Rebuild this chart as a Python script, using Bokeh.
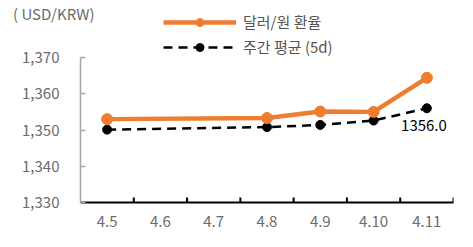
from bokeh.plotting import figure
from bokeh.models import (FactorRange, Range1d, LinearAxis, CategoricalAxis, FixedTicker,
                          NumeralTickFormatter, Legend, LegendItem, ColumnDataSource)
from bokeh.transform import dodge
from bokeh.embed import file_html
from bokeh.resources import INLINE
from bokeh.core.properties import value

categories = ["4.5", "4.6", "4.7", "4.8", "4.9", "4.10", "4.11"]
days = ["4.5", "4.8", "4.9", "4.10", "4.11"]
rate = [1353.0, 1353.3, 1355.1, 1355.0, 1364.4]
avg5 = [1350.1, 1350.8, 1351.4, 1352.6, 1356.0]
y_ticks = [1330, 1340, 1350, 1360, 1370]
title_text = "( USD/KRW)"
name_rate = "달러/원 환율"
name_avg = "주간 평균 (5d)"

FONT = "Noto Sans CJK KR"
ORANGE = "#ED7D31"
GRAY = "#6b6b6b"
Y0, Y1 = y_ticks[0], y_ticks[-1]
TOP = 13  # frame top (px); 145 px correspond to the 40-unit axis span
PX = (Y1 - Y0) / 145.0
Y_TOP = Y0 + (202 - TOP) * PX

p = figure(width=473, height=247, output_backend="svg", toolbar_location=None,
           x_range=FactorRange(factors=categories, factor_padding=0, range_padding=0),
           y_range=Range1d(Y0, Y_TOP), x_axis_location=None, y_axis_location=None,
           min_border_left=80, min_border_right=20, min_border_top=TOP, min_border_bottom=45)
p.outline_line_color = None
p.grid.visible = False
p.background_fill_color = "white"
p.border_fill_color = "white"

cat_axis = CategoricalAxis()
cat_axis.axis_line_color = "black"
cat_axis.axis_line_width = 2
cat_axis.major_tick_line_color = None
cat_axis.major_tick_out = 0
cat_axis.major_tick_in = 0
cat_axis.major_label_standoff = 13
cat_axis.major_label_text_font = FONT
cat_axis.major_label_text_font_size = "15px"
cat_axis.major_label_text_color = GRAY
p.add_layout(cat_axis, "below")

# x ticks at the boundaries between categories
tick_src = ColumnDataSource(dict(x=categories, y0=[Y0] * len(categories), y1=[Y0 + 1.4] * len(categories)))
p.segment(x0=dodge("x", 0.5, range=p.x_range), x1=dodge("x", 0.5, range=p.x_range),
          y0="y0", y1="y1", source=tick_src, line_color="black", line_width=2)

yaxis = LinearAxis(ticker=FixedTicker(ticks=y_ticks), formatter=NumeralTickFormatter(format="0,0"),
                   bounds=(Y0, Y1))
yaxis.axis_line_color = "#a6a6a6"
yaxis.axis_line_width = 1.5
yaxis.major_tick_line_color = "#a6a6a6"
yaxis.major_tick_line_width = 1.5
yaxis.major_tick_in = 5
yaxis.major_tick_out = 0
yaxis.minor_tick_line_color = None
yaxis.major_label_standoff = 21
yaxis.major_label_text_font = FONT
yaxis.major_label_text_font_size = "15px"
yaxis.major_label_text_color = GRAY
p.add_layout(yaxis, "left")

# unit title drawn as the label of an otherwise empty outer axis
title_axis = LinearAxis(ticker=FixedTicker(ticks=[]), axis_label=title_text,
                        axis_label_orientation="horizontal")
try:
    title_axis.axis_label_align = "end"
except Exception:
    pass
title_axis.axis_line_color = None
title_axis.major_tick_line_color = None
title_axis.minor_tick_line_color = None
title_axis.major_tick_out = 0
title_axis.major_tick_in = 0
title_axis.major_label_text_font_size = "0px"
title_axis.major_label_standoff = 0
title_axis.axis_label_standoff = -75
title_axis.axis_label_text_font = FONT
title_axis.axis_label_text_font_size = "15px"
title_axis.axis_label_text_font_style = "normal"
title_axis.axis_label_text_baseline = "top"
title_axis.axis_label_text_color = GRAY
p.add_layout(title_axis, "left")

src = ColumnDataSource(dict(x=days, rate=rate, avg=avg5))
r_avg_line = p.line("x", "avg", source=src, line_color="black", line_width=2.5, line_dash="9 6")
r_avg_pts = p.scatter("x", "avg", source=src, size=9, fill_color="black", line_color="black")
r_rate_line = p.line("x", "rate", source=src, line_color=ORANGE, line_width=4.5)
r_rate_pts = p.scatter("x", "rate", source=src, size=11, fill_color=ORANGE, line_color=ORANGE)

lab_src = ColumnDataSource(dict(x=[days[-1]], y=[avg5[-1]], t=[f"{avg5[-1]:.1f}"]))
p.text("x", "y", text="t", source=lab_src, x_offset=20, y_offset=17, text_align="right",
       text_baseline="middle", text_font=value(FONT), text_font_size="15px", text_color="black")

legend = Legend(items=[LegendItem(label=name_rate, renderers=[r_rate_line, r_rate_pts]),
                       LegendItem(label=name_avg, renderers=[r_avg_line, r_avg_pts])],
                location=(83, 202 - TOP - 44), orientation="vertical")
legend.glyph_width = 73
legend.glyph_height = 20
legend.label_height = 20
legend.label_standoff = 7
legend.spacing = 4
legend.padding = 0
legend.margin = 0
legend.border_line_color = None
legend.background_fill_alpha = 0
legend.label_text_font = FONT
legend.label_text_font_size = "15px"
legend.label_text_color = "#555555"
p.add_layout(legend, "center")

open("out.html", "w").write(file_html(p, INLINE))
